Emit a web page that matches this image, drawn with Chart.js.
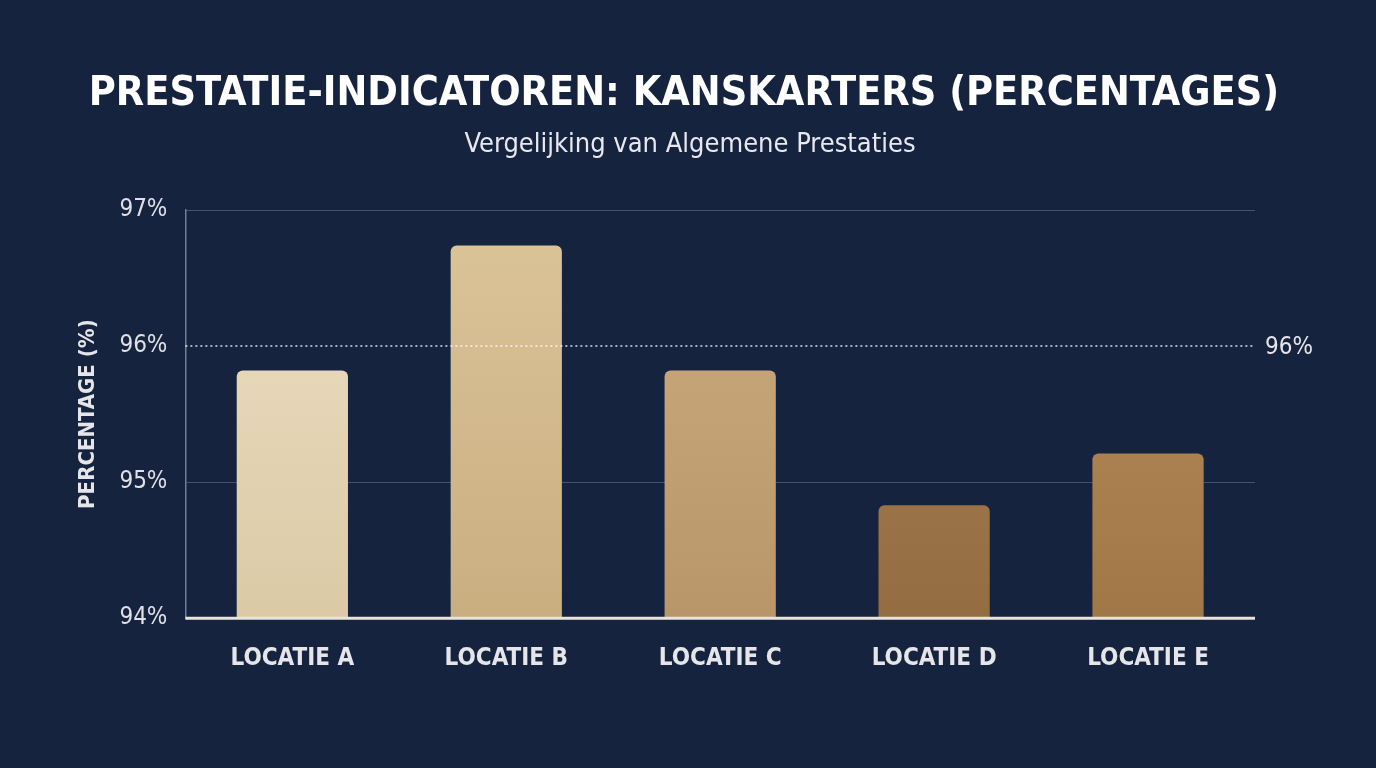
<!DOCTYPE html>
<html><head><meta charset="utf-8">
<script src="https://cdn.jsdelivr.net/npm/chart.js@4/dist/chart.umd.min.js"></script>
<style>html,body{margin:0;background:#16233f;}#w{width:1376px;height:768px;}</style>
</head><body><div id="w"><canvas id="c" width="1376" height="768"></canvas></div>
<script>
const categories=["LOCATIE A","LOCATIE B","LOCATIE C","LOCATIE D","LOCATIE E"];
const values=[95.82,96.74,95.82,94.83,95.21];
const refValue=96;
const titleText='PRESTATIE-INDICATOREN: KANSKARTERS (PERCENTAGES)';
const subtitleText='Vergelijking van Algemene Prestaties';
const barTop=["#ecdfc4","#dcc59a","#cdae80","#ae8656","#b98f5d"];
const barBot=["#dccaa6","#c9ae80","#b8966a","#936c42","#a07748"];
const refLine={id:'ref',afterDatasetsDraw(ch){const{ctx,chartArea:a,scales:{y}}=ch;const py=y.getPixelForValue(refValue);
ctx.save();ctx.strokeStyle='rgba(255,255,255,0.85)';ctx.lineWidth=1.5;ctx.setLineDash([2,3]);ctx.beginPath();ctx.moveTo(a.left,py);ctx.lineTo(a.right,py);ctx.stroke();
ctx.setLineDash([]);ctx.fillStyle='#e6e6ea';ctx.font='24px "DejaVu Sans Condensed"';ctx.textBaseline='middle';ctx.fillText(refValue+'%',a.right+10,py+2);
ctx.strokeStyle='#e8e4dc';ctx.lineWidth=3;ctx.beginPath();ctx.moveTo(a.left,a.bottom);ctx.lineTo(a.right,a.bottom);ctx.stroke();
ctx.textAlign='center';ctx.fillStyle='#ffffff';ctx.font='bold 41px "DejaVu Sans Condensed"';ctx.fillText(titleText,684,94);
ctx.fillStyle='#e8e8ee';ctx.font='27px "DejaVu Sans Condensed"';ctx.fillText(subtitleText,690,145);
ctx.restore();}};
new Chart(document.getElementById('c'),{type:'bar',
data:{labels:categories,datasets:[{data:values,borderRadius:6,borderSkipped:'bottom',
backgroundColor(c){const ch=c.chart,a=ch.chartArea;if(!a)return barTop[c.dataIndex];const g=ch.ctx.createLinearGradient(0,a.top,0,a.bottom);g.addColorStop(0,barTop[c.dataIndex]);g.addColorStop(1,barBot[c.dataIndex]);return g;},
categoryPercentage:1,barPercentage:0.52}]},
options:{responsive:false,animation:false,
layout:{padding:{left:71,right:121,top:210,bottom:77}},
plugins:{legend:{display:false},tooltip:{enabled:false},title:{display:false},subtitle:{display:false}},
scales:{y:{min:94,max:97,ticks:{stepSize:1,color:'#e0e0e6',font:{family:'"DejaVu Sans Condensed"',size:24},callback:v=>v+'%',padding:18},
grid:{color(c){return c.tick.value===96||c.tick.value===94?'rgba(0,0,0,0)':'rgba(160,170,200,0.35)';},drawTicks:false},
border:{color:'rgba(180,185,200,0.6)',width:1.5},
title:{display:true,text:'PERCENTAGE (%)',color:'#e6e6ea',font:{family:'"DejaVu Sans Condensed"',size:22,weight:'bold'},padding:{bottom:0}}},
x:{ticks:{color:'#e6e6ea',font:{family:'"DejaVu Sans Condensed"',size:24,weight:'bold'},padding:18},grid:{display:false},border:{display:false}}}},
plugins:[refLine]});
</script></body></html>
